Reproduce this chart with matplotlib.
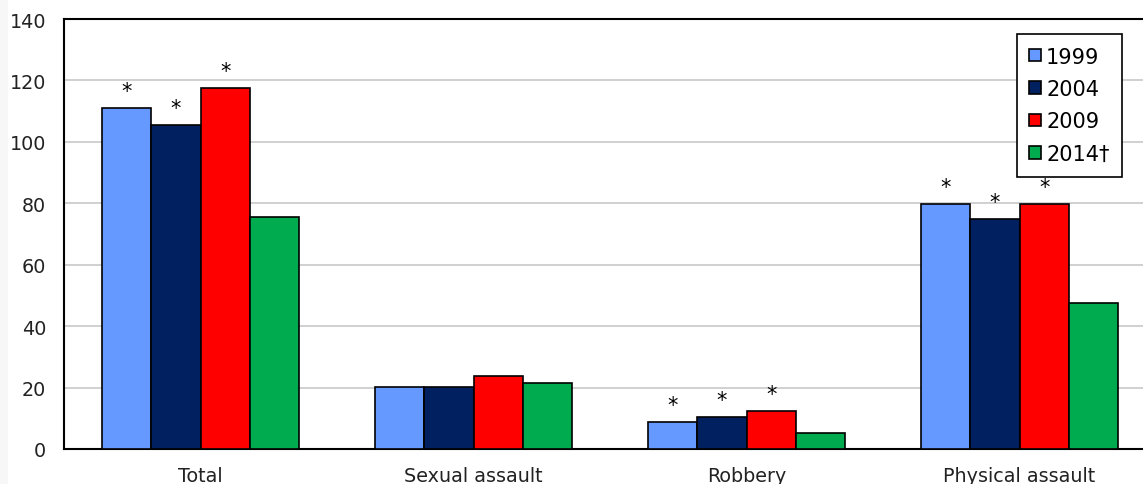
import numpy as np
import matplotlib.pyplot as plt
from matplotlib.patches import Rectangle

# Data
categories = ["Total", "Sexual assault", "Robbery", "Physical assault"]
years = ["1999", "2004", "2009", "2014\u2020"]
values_1999 = [111.0, 20.3, 8.7, 79.8]
values_2004 = [105.5, 20.3, 10.3, 74.9]
values_2009 = [117.5, 23.7, 12.5, 79.8]
values_2014 = [75.5, 21.4, 5.3, 47.5]
# asterisk flags (significant difference) per series
star_1999 = [True, False, True, True]
star_2004 = [True, False, True, True]
star_2009 = [True, False, True, True]
star_2014 = [False, False, False, False]

colors = ["#6699FF", "#002060", "#FF0000", "#00AA4F"]
series = [values_1999, values_2004, values_2009, values_2014]
stars = [star_1999, star_2004, star_2009, star_2014]

fig = plt.figure(figsize=(11.43, 4.85), dpi=100)
fig.patches.append(Rectangle((0, 0), 8 / 1143, 1, transform=fig.transFigure,
                             facecolor="#f7f7f7", edgecolor="none", zorder=0))
ax = fig.add_axes([64 / 1143, 1 - 450 / 485, 1092 / 1143, 430 / 485])

x = np.arange(len(categories))
width = 0.181
for i, (vals, col, flags) in enumerate(zip(series, colors, stars)):
    pos = x + (i - 1.5) * width
    ax.bar(pos, vals, width, color=col, edgecolor="black", linewidth=1.2,
           label=years[i], zorder=3)
    for px, v, f in zip(pos, vals, flags):
        if f:
            ax.annotate("*", (px, v), xytext=(0, 5), textcoords="offset points",
                        ha="center", va="bottom", fontsize=15, zorder=4)

ax.set_xlim(-0.5, len(categories) - 0.5)
ax.set_ylim(0, 140)
ax.set_yticks(range(0, 141, 20))
ax.set_xticks(x)
ax.set_xticklabels(categories)
ax.tick_params(axis="both", length=0, labelsize=13.8, colors="#222222")
ax.tick_params(axis="y", pad=13)
ax.tick_params(axis="x", pad=12)
ax.yaxis.grid(True, color="#c8c8c8", linewidth=1.2, zorder=0)
for s in ax.spines.values():
    s.set_linewidth(1.5)
    s.set_color("black")

leg = ax.legend(loc="upper right", bbox_to_anchor=(1122 / 1143, 1 - 35 / 485),
                bbox_transform=fig.transFigure, borderaxespad=0, fontsize=15,
                fancybox=False, edgecolor="black", framealpha=1,
                handlelength=0.55, handleheight=0.55, handletextpad=0.25,
                labelspacing=0.6, borderpad=0.6)
leg.get_frame().set_linewidth(1.2)

fig.savefig("out.png", dpi=100)
